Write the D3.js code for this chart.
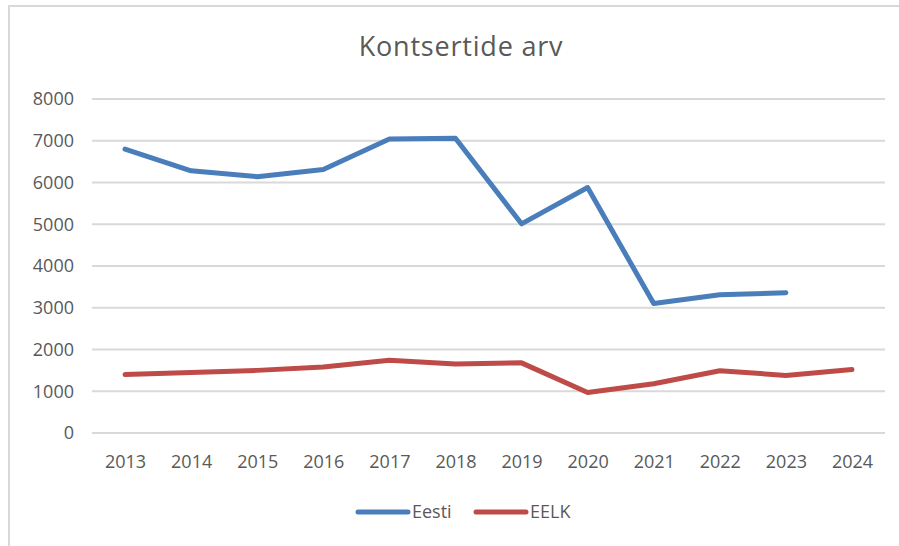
<!DOCTYPE html>
<html>
<head>
<meta charset="utf-8">
<style>
body { margin: 0; background: #fff; }
svg text { font-family: "Open Sans", sans-serif; fill: #595959; }
.grid line { stroke: #d9d9d9; stroke-width: 2px; }
</style>
</head>
<body>
<div id="container"></div>
<script src="https://d3js.org/d3.v7.min.js"></script>
<script>
const width = 899;
const height = 546;

const years = ["2013","2014","2015","2016","2017","2018","2019","2020","2021","2022","2023","2024"];
const eesti = [6800, 6280, 6140, 6310, 7040, 7060, 5010, 5880, 3100, 3310, 3360, null];
const eelk = [1400, 1450, 1500, 1580, 1740, 1650, 1680, 970, 1180, 1490, 1380, 1520];
const yTicks = [0, 1000, 2000, 3000, 4000, 5000, 6000, 7000, 8000];
const seriesNames = ["Eesti", "EELK"];
const colors = ["#4a7ebb", "#be4b48"];

const svg = d3.select('#container').append('svg')
    .attr('width', width).attr('height', height);

// chart frame (cut off at right/bottom like the screenshot)
svg.append('rect')
    .attr('x', 9).attr('y', 6)
    .attr('width', width + 10).attr('height', height + 10)
    .attr('fill', 'none').attr('stroke', '#d9d9d9').attr('stroke-width', 2);

const x = d3.scalePoint().domain(years).range([92, 885]).padding(0.5);
const y = d3.scaleLinear().domain([0, 8000]).range([433, 99]);

svg.append('text')
    .attr('x', 461).attr('y', 56)
    .attr('text-anchor', 'middle')
    .style('font-size', '27px')
    .style('letter-spacing', '0.8px')
    .text('Kontsertide arv');

const grid = svg.append('g').attr('class', 'grid');
grid.selectAll('line').data(yTicks).enter().append('line')
    .attr('x1', 92).attr('x2', 885)
    .attr('y1', d => y(d)).attr('y2', d => y(d));

const yAxis = svg.append('g')
    .attr('transform', 'translate(74,0)')
    .call(d3.axisLeft(y).tickValues(yTicks).tickSize(0).tickPadding(0).tickFormat(d3.format('d')));
yAxis.select('.domain').remove();
yAxis.selectAll('text').style('font-size', '18px').attr('fill', '#595959');

const xAxis = svg.append('g')
    .attr('transform', 'translate(0,455)')
    .call(d3.axisBottom(x).tickSize(0).tickPadding(0));
xAxis.select('.domain').remove();
xAxis.selectAll('text').style('font-size', '18px').attr('fill', '#595959');

const line = d3.line()
    .defined(d => d.v != null)
    .x(d => x(d.year))
    .y(d => y(d.v));

[eesti, eelk].forEach((vals, i) => {
  svg.append('path')
    .datum(years.map((yr, j) => ({year: yr, v: vals[j]})))
    .attr('fill', 'none')
    .attr('stroke', colors[i])
    .attr('stroke-width', 5)
    .attr('stroke-linejoin', 'round')
    .attr('stroke-linecap', 'round')
    .attr('d', line);
});

// legend
const legendX = [358, 476];
const lg = svg.append('g').selectAll('g').data(seriesNames).enter().append('g')
    .attr('transform', (d, i) => `translate(${legendX[i]},512)`);
lg.append('line')
    .attr('x1', 0).attr('x2', 50)
    .attr('stroke', (d, i) => colors[i])
    .attr('stroke-width', 5)
    .attr('stroke-linecap', 'round');
lg.append('text')
    .attr('x', 54).attr('dy', '0.35em')
    .style('font-size', '18px')
    .text(d => d);
</script>
</body>
</html>
